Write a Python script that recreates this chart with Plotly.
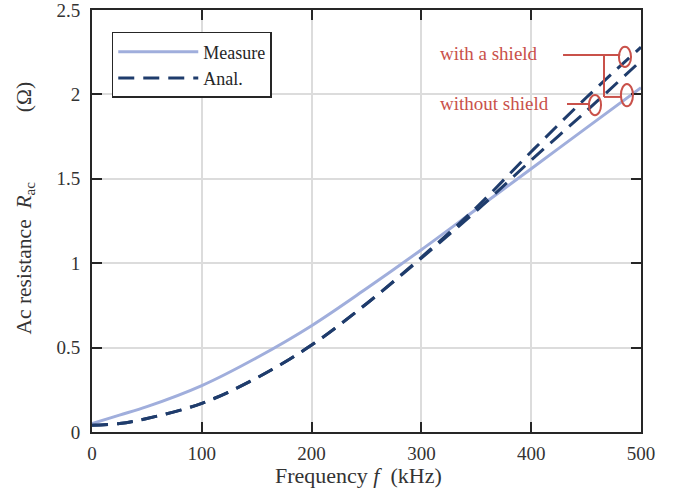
import plotly.graph_objects as go

# Data
freq_meas = [0, 25, 50, 100, 150, 200, 250, 300, 350, 400, 450, 500]
r_meas = [0.05, 0.10, 0.15, 0.275, 0.44, 0.63, 0.85, 1.08, 1.32, 1.56, 1.80, 2.04]

freq_anal = [0, 25, 50, 100, 150, 200, 250, 300, 350, 400, 450, 500]
r_anal_noshield = [0.04, 0.05, 0.08, 0.17, 0.32, 0.515, 0.76, 1.03, 1.31, 1.61, 1.90, 2.20]
r_anal_shield = [0.04, 0.05, 0.08, 0.17, 0.32, 0.515, 0.76, 1.035, 1.33, 1.66, 1.98, 2.28]

x_ticks = [0, 100, 200, 300, 400, 500]
y_ticks = [0, 0.5, 1, 1.5, 2, 2.5]
y_tick_text = ["0", "0.5", "1", "1.5", "2", "2.5"]

FONT = "Liberation Serif"
RED = "#C9514A"
MEAS_COL = "#A0AEDC"
ANAL_COL = "#1F3C6C"
NB = "\u00a0"

fig = go.Figure()
fig.add_trace(go.Scatter(x=freq_meas, y=r_meas, mode="lines", name="Measure",
                         line=dict(color=MEAS_COL, width=3, shape="spline")))
fig.add_trace(go.Scatter(x=freq_anal, y=r_anal_noshield, mode="lines", name="Anal.",
                         line=dict(color=ANAL_COL, width=3, dash="16px,9px", shape="spline")))
fig.add_trace(go.Scatter(x=freq_anal, y=r_anal_shield, mode="lines", name="Anal. shield",
                         showlegend=False,
                         line=dict(color=ANAL_COL, width=3, dash="16px,9px", shape="spline")))

# Annotation brackets (red)
line_style = dict(color=RED, width=2)
shapes = [
    dict(type="line", xref="x", yref="y", x0=429, x1=481, y0=2.233, y1=2.233, line=line_style),
    dict(type="line", xref="x", yref="y", x0=466.3, x1=466.3, y0=2.233, y1=1.985, line=line_style),
    dict(type="line", xref="x", yref="y", x0=466.3, x1=482, y0=1.985, y1=1.985, line=line_style),
    dict(type="line", xref="x", yref="y", x0=432.6, x1=453.6, y0=1.943, y1=1.943, line=line_style),
    dict(type="circle", xref="x", yref="y", x0=485.4 - 5.5, x1=485.4 + 5.5,
         y0=2.222 - 0.06, y1=2.222 + 0.06, line=line_style),
    dict(type="circle", xref="x", yref="y", x0=487.2 - 5.5, x1=487.2 + 5.5,
         y0=1.996 - 0.066, y1=1.996 + 0.066, line=line_style),
    dict(type="circle", xref="x", yref="y", x0=458.1 - 5.5, x1=458.1 + 5.5,
         y0=1.937 - 0.06, y1=1.937 + 0.06, line=line_style),
]

annotations = [
    dict(x=408, y=2.245, xref="x", yref="y", text="with a shield", showarrow=False,
         xanchor="right", yanchor="middle", font=dict(family=FONT, size=19, color=RED)),
    dict(x=418, y=1.945, xref="x", yref="y", text="without shield", showarrow=False,
         xanchor="right", yanchor="middle", font=dict(family=FONT, size=19, color=RED)),
    # axis titles
    dict(x=0.486, y=-0.104, xref="paper", yref="paper", showarrow=False,
         xanchor="center", yanchor="middle",
         text=f"Frequency <i>f</i>{NB} (kHz)",
         font=dict(family=FONT, size=22, color="#333333")),
    dict(x=-0.122, y=0.5296, xref="paper", yref="paper", showarrow=False,
         xanchor="center", yanchor="middle", textangle=-90,
         text=f"Ac resistance{NB}{NB}<i>R</i><sub>ac</sub>{NB*13}(Ω)",
         font=dict(family=FONT, size=21.5, color="#333333")),
]

axis_common = dict(
    showline=True, linecolor="#262626", linewidth=2, mirror="ticks",
    ticks="inside", ticklen=10, tickwidth=2, tickcolor="#262626",
    showgrid=True, gridcolor="#DCDCDC", gridwidth=1.5, zeroline=False,
    tickfont=dict(family=FONT, size=19, color="#333333"),
    automargin=False, ticklabeloverflow="allow",
)

fig.update_layout(
    width=685, height=500,
    margin=dict(l=92, r=44, t=10, b=68),
    paper_bgcolor="white", plot_bgcolor="white",
    shapes=shapes, annotations=annotations,
    xaxis=dict(range=[0, 500], tickvals=x_ticks, ticklabelstandoff=3, **axis_common),
    yaxis=dict(range=[0, 2.5], tickvals=y_ticks, ticktext=y_tick_text, ticklabelstandoff=6,
               **axis_common),
    legend=dict(x=0.036, y=0.948, xanchor="left", yanchor="top",
                bgcolor="white", bordercolor="#262626", borderwidth=1.5,
                font=dict(family=FONT, size=18, color="#262626"),
                itemwidth=80, tracegroupgap=0),
    showlegend=True,
)

fig.write_html("out.html")
